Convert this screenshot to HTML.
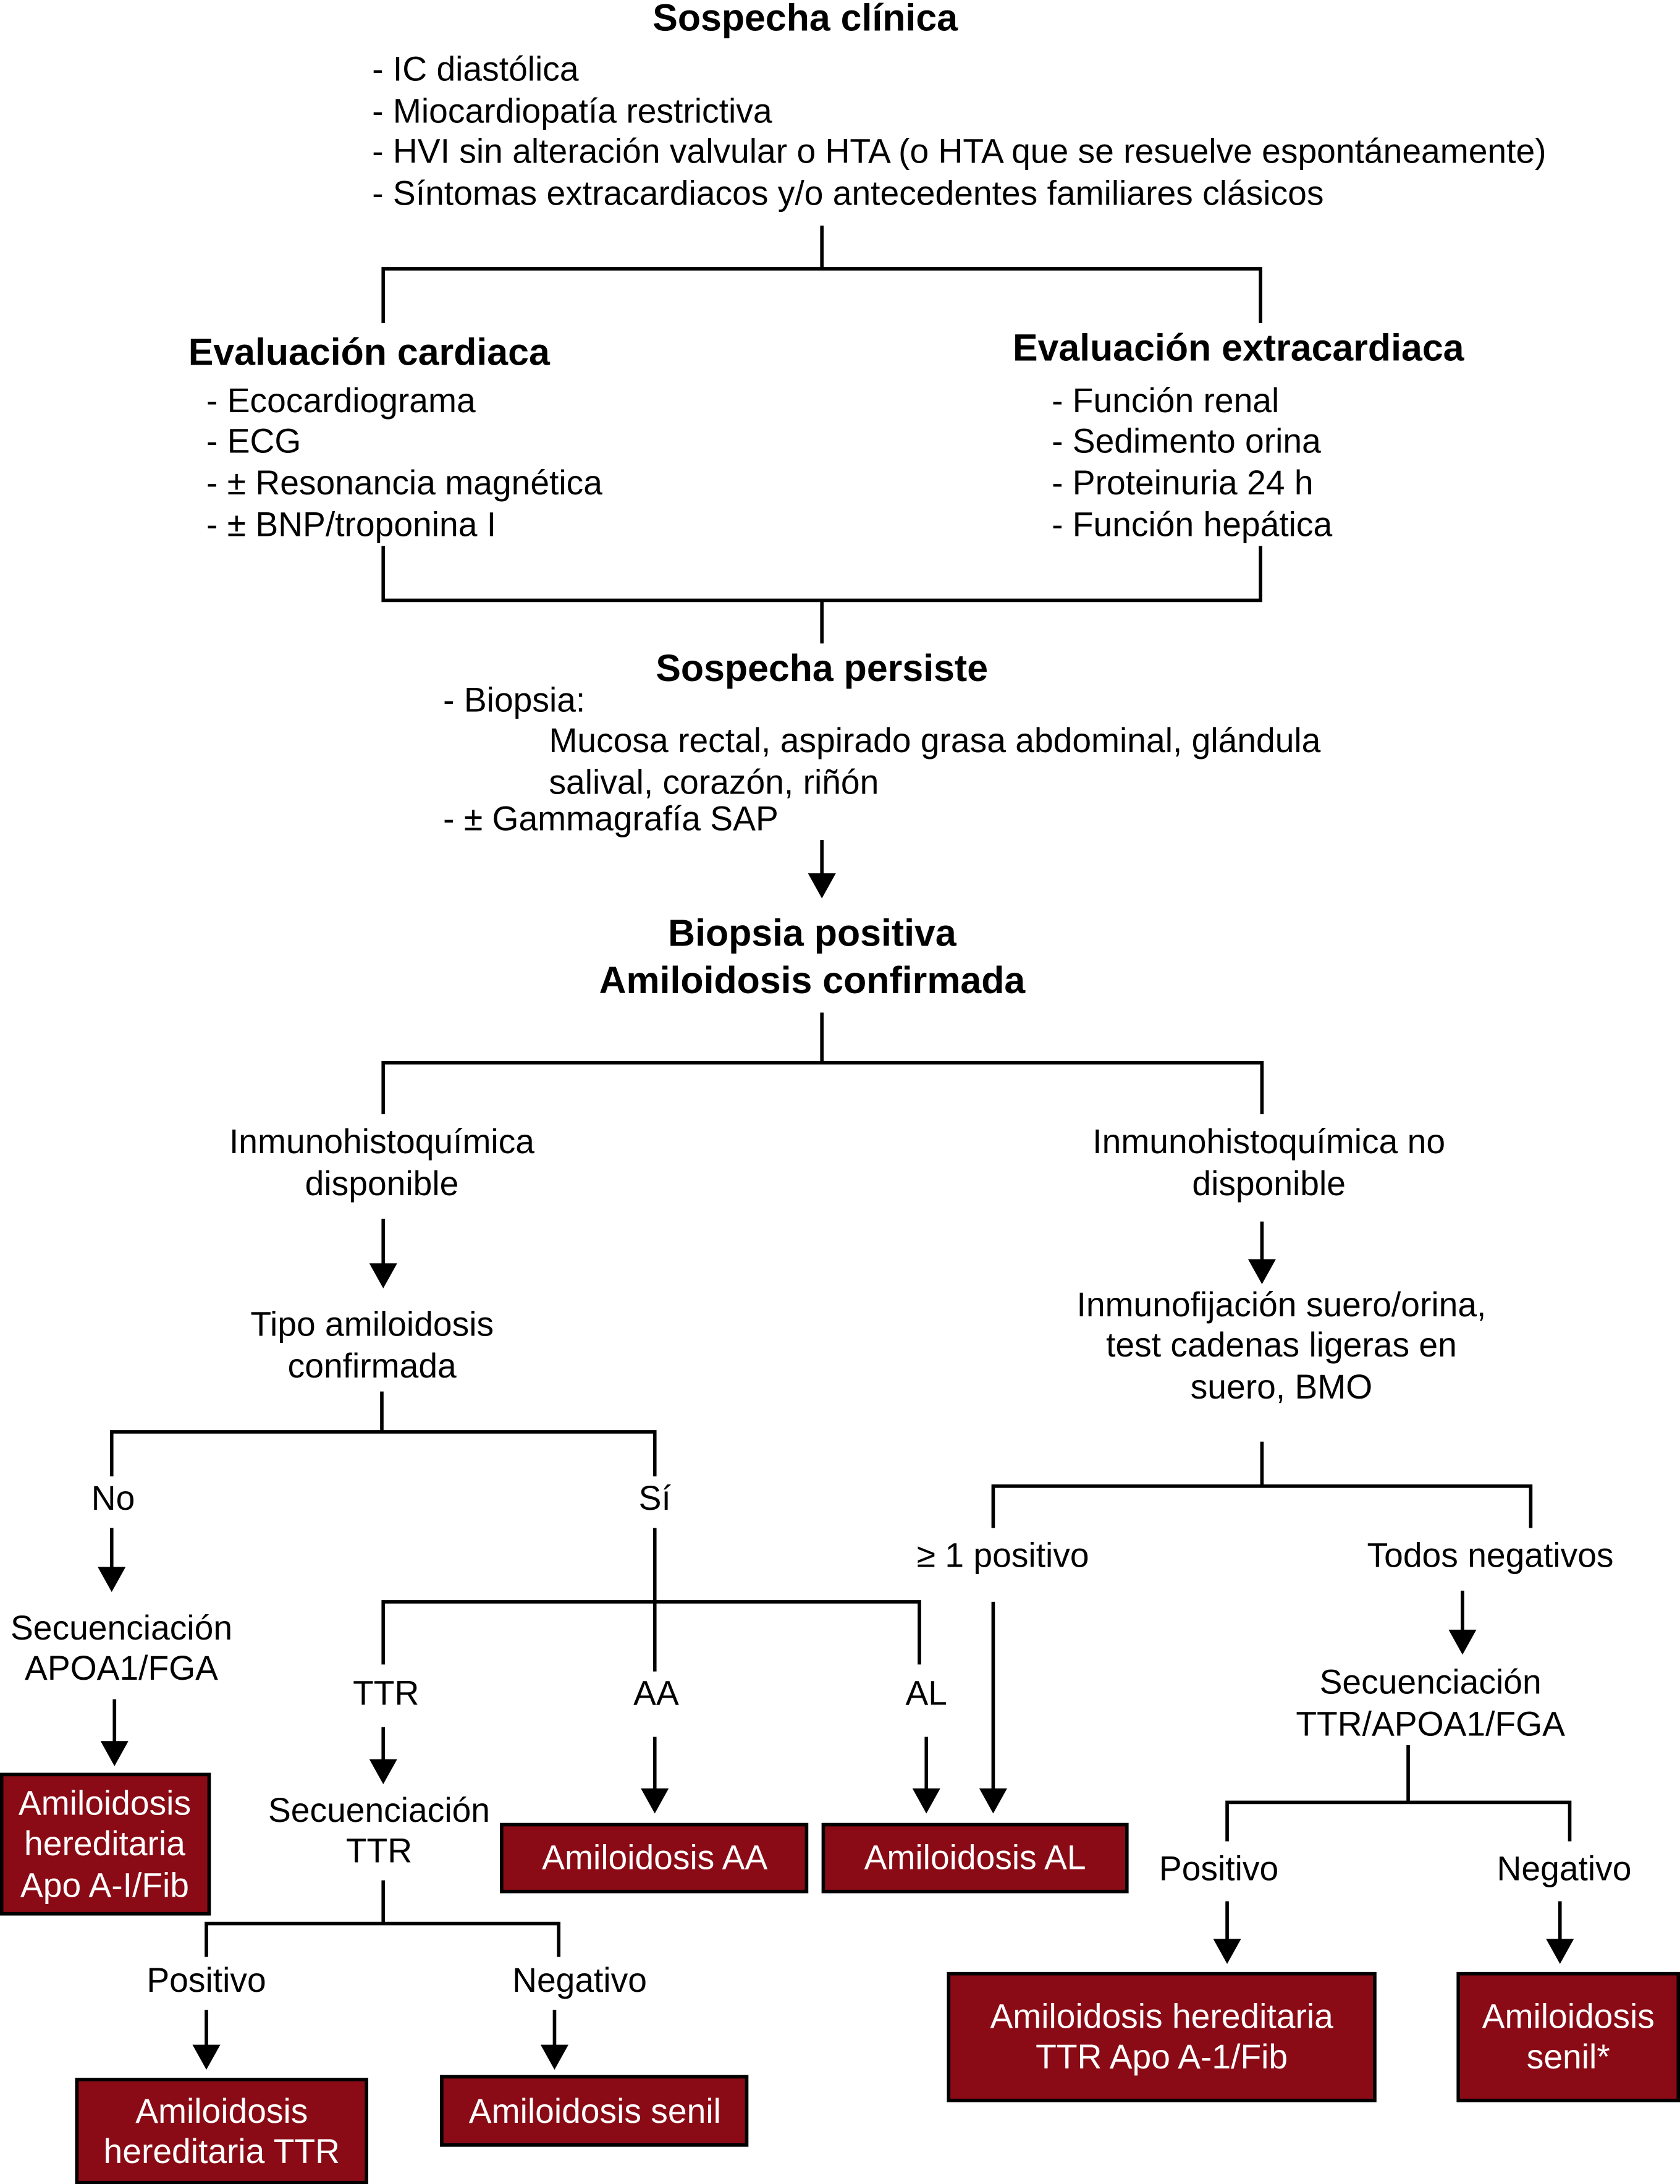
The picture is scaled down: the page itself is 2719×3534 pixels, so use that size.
<!DOCTYPE html>
<html><head><meta charset="utf-8"><style>
html,body{margin:0;padding:0;background:#fff}
svg{display:block}
text{font-family:"Liberation Sans",Arial,sans-serif;font-size:24.5px;fill:#000}
.b{font-weight:bold;font-size:27px}
.c{text-anchor:middle}
.w{fill:#fff}
line,polyline{stroke:#000;stroke-width:2.5;fill:none}
rect{fill:#8a0b15;stroke:#000;stroke-width:2.5}
</style></head><body>
<svg width="2719" height="3534" viewBox="0 0 1206 1568" xmlns="http://www.w3.org/2000/svg">
<text class="b c" x="578" y="22">Sospecha clínica</text>
<text x="267" y="58">- IC diastólica</text>
<text x="267" y="88">- Miocardiopatía restrictiva</text>
<text x="267" y="117">- HVI sin alteración valvular o HTA (o HTA que se resuelve espontáneamente)</text>
<text x="267" y="147">- Síntomas extracardiacos y/o antecedentes familiares clásicos</text>
<line x1="590" y1="162" x2="590" y2="193"/>
<polyline points="275,232 275,193 905,193 905,232"/>
<text class="b" x="135" y="262">Evaluación cardiaca</text>
<text x="148" y="296">- Ecocardiograma</text>
<text x="148" y="325">- ECG</text>
<text x="148" y="355">- ± Resonancia magnética</text>
<text x="148" y="385">- ± BNP/troponina I</text>
<text class="b" x="727" y="259">Evaluación extracardiaca</text>
<text x="755" y="296">- Función renal</text>
<text x="755" y="325">- Sedimento orina</text>
<text x="755" y="355">- Proteinuria 24 h</text>
<text x="755" y="385">- Función hepática</text>
<polyline points="275,392 275,431 905,431 905,392"/>
<line x1="590" y1="431" x2="590" y2="462"/>
<text class="b c" x="590" y="489">Sospecha persiste</text>
<text x="318" y="511">- Biopsia:</text>
<text x="394" y="540">Mucosa rectal, aspirado grasa abdominal, glándula</text>
<text x="394" y="570">salival, corazón, riñón</text>
<text x="318" y="596">- ± Gammagrafía SAP</text>
<text class="b c" x="583" y="679">Biopsia positiva</text>
<text class="b c" x="583" y="713">Amiloidosis confirmada</text>
<line x1="590" y1="727" x2="590" y2="763"/>
<polyline points="275,800 275,763 906,763 906,800"/>
<text class="c" x="274" y="828">Inmunohistoquímica</text>
<text class="c" x="274" y="858">disponible</text>
<text class="c" x="911" y="828">Inmunohistoquímica no</text>
<text class="c" x="911" y="858">disponible</text>
<text class="c" x="267" y="959">Tipo amiloidosis</text>
<text class="c" x="267" y="989">confirmada</text>
<text class="c" x="920" y="945">Inmunofijación suero/orina,</text>
<text class="c" x="920" y="974">test cadenas ligeras en</text>
<text class="c" x="920" y="1004">suero, BMO</text>
<line x1="274" y1="999" x2="274" y2="1028"/>
<polyline points="80,1060 80,1028 470,1028 470,1060"/>
<text class="c" x="81" y="1084">No</text>
<text class="c" x="470" y="1084">Sí</text>
<line x1="470" y1="1097" x2="470" y2="1200"/>
<polyline points="275,1195 275,1150 660,1150 660,1195"/>
<text class="c" x="87" y="1177">Secuenciación</text>
<text class="c" x="87" y="1206">APOA1/FGA</text>
<text class="c" x="277" y="1224">TTR</text>
<text class="c" x="471" y="1224">AA</text>
<text class="c" x="665" y="1224">AL</text>
<text class="c" x="272" y="1308">Secuenciación</text>
<text class="c" x="272" y="1337">TTR</text>
<line x1="906" y1="1035" x2="906" y2="1067"/>
<polyline points="713,1097 713,1067 1099,1067 1099,1097"/>
<text class="c" x="720" y="1125">≥ 1 positivo</text>
<text class="c" x="1070" y="1125">Todos negativos</text>
<text class="c" x="1027" y="1216">Secuenciación</text>
<text class="c" x="1027" y="1246">TTR/APOA1/FGA</text>
<line x1="1011" y1="1253" x2="1011" y2="1294"/>
<polyline points="881,1322 881,1294 1127,1294 1127,1322"/>
<text class="c" x="875" y="1350">Positivo</text>
<text class="c" x="1123" y="1350">Negativo</text>
<line x1="275" y1="1350" x2="275" y2="1381"/>
<polyline points="148,1405 148,1381 401,1381 401,1405"/>
<text class="c" x="148" y="1430">Positivo</text>
<text class="c" x="416" y="1430">Negativo</text>
<line x1="590" y1="603" x2="590" y2="635"/>
<line x1="275" y1="875" x2="275" y2="915"/>
<line x1="906" y1="877" x2="906" y2="912"/>
<line x1="80" y1="1097" x2="80" y2="1133"/>
<line x1="82" y1="1220" x2="82" y2="1258"/>
<line x1="275" y1="1240" x2="275" y2="1271"/>
<line x1="470" y1="1247" x2="470" y2="1292"/>
<line x1="665" y1="1247" x2="665" y2="1292"/>
<line x1="713" y1="1150" x2="713" y2="1292"/>
<line x1="1050" y1="1142" x2="1050" y2="1178"/>
<line x1="881" y1="1365" x2="881" y2="1400"/>
<line x1="1120" y1="1365" x2="1120" y2="1400"/>
<line x1="148" y1="1443" x2="148" y2="1476"/>
<line x1="398" y1="1443" x2="398" y2="1476"/>
<g fill="#000">
<path d="M580,627 L600,627 L590,645z"/>
<path d="M265,907 L285,907 L275,925z"/>
<path d="M896,904 L916,904 L906,922z"/>
<path d="M70,1125 L90,1125 L80,1143z"/>
<path d="M72,1250 L92,1250 L82,1268z"/>
<path d="M265,1263 L285,1263 L275,1281z"/>
<path d="M460,1284 L480,1284 L470,1302z"/>
<path d="M655,1284 L675,1284 L665,1302z"/>
<path d="M703,1284 L723,1284 L713,1302z"/>
<path d="M1040,1170 L1060,1170 L1050,1188z"/>
<path d="M871,1392 L891,1392 L881,1410z"/>
<path d="M1110,1392 L1130,1392 L1120,1410z"/>
<path d="M138,1468 L158,1468 L148,1486z"/>
<path d="M388,1468 L408,1468 L398,1486z"/>
</g>
<rect x="1" y="1274" width="149" height="100"/>
<text class="c w" x="75" y="1303">Amiloidosis</text>
<text class="c w" x="75" y="1332">hereditaria</text>
<text class="c w" x="75" y="1362">Apo A-I/Fib</text>
<rect x="360" y="1310" width="219" height="48"/>
<text class="c w" x="470" y="1342">Amiloidosis AA</text>
<rect x="591" y="1310" width="218" height="48"/>
<text class="c w" x="700" y="1342">Amiloidosis AL</text>
<rect x="681" y="1417" width="306" height="91"/>
<text class="c w" x="834" y="1456">Amiloidosis hereditaria</text>
<text class="c w" x="834" y="1485">TTR Apo A-1/Fib</text>
<rect x="1047" y="1417" width="158" height="91"/>
<text class="c w" x="1126" y="1456">Amiloidosis</text>
<text class="c w" x="1126" y="1485">senil*</text>
<rect x="55" y="1493" width="208" height="74"/>
<text class="c w" x="159" y="1524">Amiloidosis</text>
<text class="c w" x="159" y="1553">hereditaria TTR</text>
<rect x="317" y="1491" width="219" height="49"/>
<text class="c w" x="427" y="1524">Amiloidosis senil</text>
</svg>
</body></html>
